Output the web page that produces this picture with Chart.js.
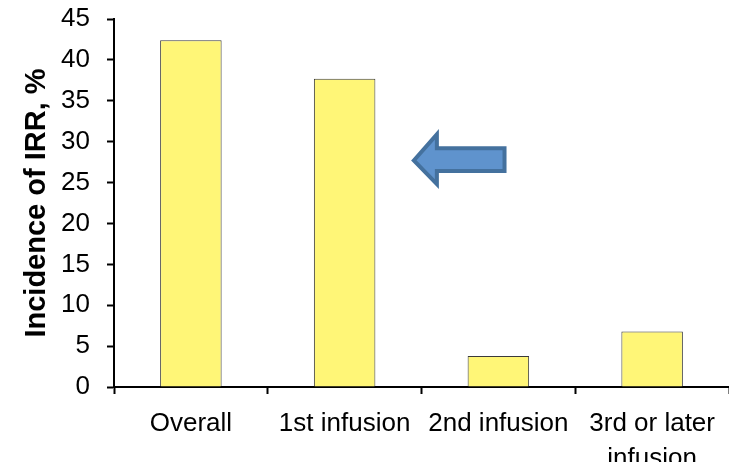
<!DOCTYPE html>
<html>
<head>
<meta charset="utf-8">
<script src="https://cdn.jsdelivr.net/npm/chart.js@4/dist/chart.umd.min.js"></script>
<style>
  html, body { margin: 0; padding: 0; background: #ffffff; }
  #wrap { width: 729px; height: 462px; }
</style>
</head>
<body>
<div id="wrap"><canvas id="c" width="729" height="462"></canvas></div>
<script>
// Categories and incidence values (%)
const categories = ['Overall', '1st infusion', '2nd infusion', ['3rd or later', 'infusion']];
const incidence = [42.4, 37.7, 3.8, 6.8];
const yTicks = [0, 5, 10, 15, 20, 25, 30, 35, 40, 45];

// Left-pointing callout arrow, in (category index, value) units
const arrowShape = {
  tipX: 1.45, tipY: 27.7,
  headX: 1.60, headTop: 30.9, headBottom: 24.8,
  shaftTop: 29.2, shaftBottom: 26.4,
  tailX: 2.04
};

const FONT = '"Liberation Sans", Arial, Helvetica, sans-serif';

const arrowPlugin = {
  id: 'arrowCallout',
  afterDatasetsDraw(chart) {
    const x = chart.scales.x, y = chart.scales.y, ctx = chart.ctx;
    const px = v => x.getPixelForDecimal((v + 0.5) / categories.length);
    const py = v => y.getPixelForValue(v);
    const a = arrowShape;
    ctx.save();
    ctx.beginPath();
    ctx.moveTo(px(a.tipX), py(a.tipY));
    ctx.lineTo(px(a.headX), py(a.headTop));
    ctx.lineTo(px(a.headX), py(a.shaftTop));
    ctx.lineTo(px(a.tailX), py(a.shaftTop));
    ctx.lineTo(px(a.tailX), py(a.shaftBottom));
    ctx.lineTo(px(a.headX), py(a.shaftBottom));
    ctx.lineTo(px(a.headX), py(a.headBottom));
    ctx.closePath();
    ctx.fillStyle = '#5f93cd';
    ctx.fill();
    ctx.lineWidth = 4;
    ctx.lineJoin = 'miter';
    ctx.strokeStyle = '#44719e';
    ctx.stroke();
    ctx.restore();
  }
};

new Chart(document.getElementById('c'), {
  type: 'bar',
  data: {
    labels: categories,
    datasets: [{
      data: incidence,
      backgroundColor: '#fff677',
      borderColor: '#3a3a3a',
      borderWidth: 1,
      barPercentage: 0.4,
      categoryPercentage: 1.0
    }]
  },
  options: {
    responsive: false,
    animation: false,
    devicePixelRatio: 1,
    layout: { padding: { top: 19, right: 0, left: 0, bottom: 0 } },
    plugins: {
      legend: { display: false },
      tooltip: { enabled: false },
      title: { display: false }
    },
    scales: {
      x: {
        offset: true,
        grid: {
          offset: true,
          drawOnChartArea: false,
          drawTicks: true,
          tickLength: 7,
          tickWidth: 2,
          tickColor: '#000000'
        },
        border: { display: true, color: '#000000', width: 2 },
        ticks: {
          color: '#000000',
          padding: 12,
          maxRotation: 0,
          autoSkip: false,
          font: { family: FONT, size: 26, lineHeight: 1.35 }
        },
        afterFit(scale) {
          scale.height = 75;
          scale.paddingLeft = 0;
          scale.paddingRight = 0;
        }
      },
      y: {
        min: 0,
        max: 45,
        afterBuildTicks(scale) { scale.ticks = yTicks.map(v => ({ value: v })); },
        grid: {
          drawOnChartArea: false,
          drawTicks: true,
          tickLength: 7,
          tickWidth: 2,
          tickColor: '#000000'
        },
        border: { display: true, color: '#000000', width: 2 },
        ticks: {
          color: '#000000',
          padding: 17,
          font: { family: FONT, size: 26 }
        },
        title: {
          display: true,
          text: 'Incidence of IRR, %',
          color: '#000000',
          padding: { top: 20, bottom: 0 },
          font: { family: FONT, size: 29, weight: 'bold' }
        },
        afterFit(scale) {
          scale.width = 114;
          scale.paddingTop = 0;
          scale.paddingBottom = 0;
        }
      }
    }
  },
  plugins: [arrowPlugin]
});
</script>
</body>
</html>
